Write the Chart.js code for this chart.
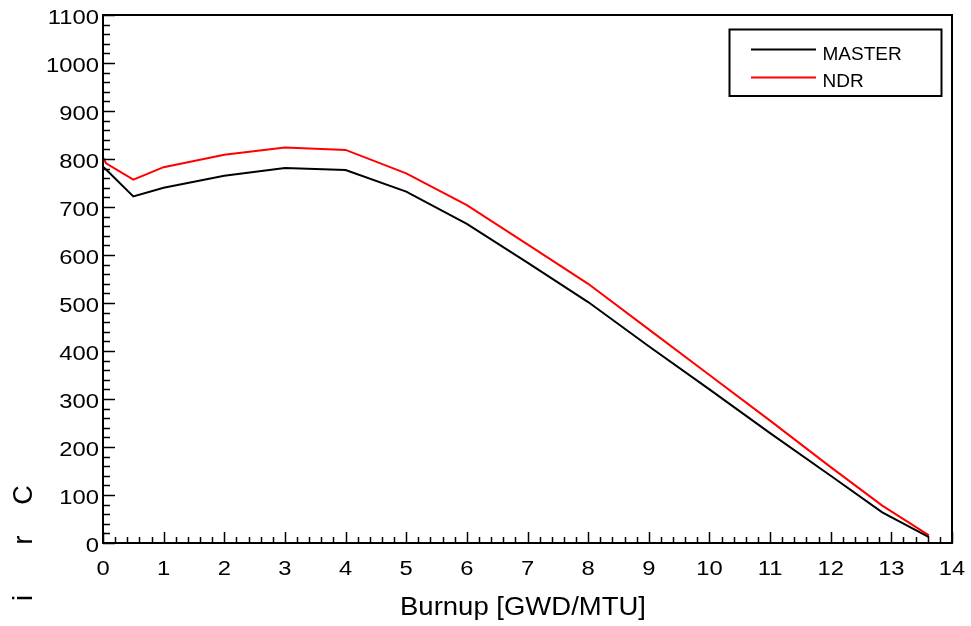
<!DOCTYPE html>
<html><head><meta charset="utf-8">
<script src="https://cdn.jsdelivr.net/npm/chart.js@4"></script>
<style>html,body{margin:0;padding:0;background:#fff;}#wrap{width:971px;height:626px;}</style>
</head><body><div id="wrap"><canvas id="c" width="971" height="626"></canvas></div>
<script>
// ---- data ----
const burnup       = [0, 0.05, 0.5, 1, 2, 3, 4, 5, 6, 7, 8, 9, 10, 11, 12, 12.85, 13.62];
const masterValues = [784, 778, 722, 740, 765, 781, 777, 732, 665, 584, 502, 410, 320, 229, 140, 64, 12];
const ndrValues    = [803, 791, 757, 783, 809, 824, 819, 770, 704, 622, 540, 445, 350, 255, 158, 78, 16];
const seriesNames  = ['MASTER', 'NDR'];
const seriesColors = ['#000000', '#ff0000'];
const xTickValues  = [0,1,2,3,4,5,6,7,8,9,10,11,12,13,14];
const yTickValues  = [0,100,200,300,400,500,600,700,800,900,1000,1100];
const xTitle = 'Burnup [GWD/MTU]';
const yTitleChars = ['C', 'r', 'i'];

const FONT = '"Liberation Sans", Arial, sans-serif';

function sText(ctx, txt, x, y, align, sx) {
  ctx.save(); ctx.translate(x, y); ctx.scale(sx, 1);
  ctx.textAlign = align; ctx.fillText(txt, 0, 0); ctx.restore();
}

const decor = {
  id: 'decor',
  afterDraw(chart) {
    const ctx = chart.ctx, a = chart.chartArea;
    const xs = chart.scales.x, ys = chart.scales.y;
    ctx.save();
    ctx.strokeStyle = '#000'; ctx.fillStyle = '#000';
    ctx.lineWidth = 2; ctx.lineCap = 'square';
    // frame
    ctx.beginPath();
    ctx.moveTo(a.left, a.top); ctx.lineTo(a.right, a.top);
    ctx.lineTo(a.right, a.bottom); ctx.lineTo(a.left, a.bottom); ctx.closePath();
    ctx.stroke();
    // ticks
    ctx.lineWidth = 1.5; ctx.lineCap = 'butt';
    ctx.beginPath();
    for (let v = 0; v <= 14.0001; v += 0.2) {
      const px = Math.round(xs.getPixelForValue(v)) + 0.5;
      const major = Math.abs(v - Math.round(v)) < 1e-6;
      ctx.moveTo(px, a.bottom); ctx.lineTo(px, a.bottom - (major ? 11 : 6));
    }
    for (let v = 0; v <= 1100.001; v += 20) {
      const py = Math.round(ys.getPixelForValue(v)) + 0.5;
      const major = Math.abs(v % 100) < 1e-6;
      ctx.moveTo(a.left, py); ctx.lineTo(a.left + (major ? 12 : 7), py);
    }
    ctx.stroke();
    // tick labels
    ctx.font = '19.5px ' + FONT; ctx.textBaseline = 'alphabetic';
    xTickValues.forEach(v => sText(ctx, String(v), xs.getPixelForValue(v), 575, 'center', 1.22));
    yTickValues.forEach(v => sText(ctx, String(v), 99, ys.getPixelForValue(v) + 9, 'right', 1.22));
    // x title
    ctx.font = '25px ' + FONT;
    sText(ctx, xTitle, 523, 615, 'center', 1.1);
    // y title fragments (rotated characters)
    const yPos = [495, 540, 598];
    ctx.font = '27px ' + FONT;
    yTitleChars.forEach((ch, i) => {
      ctx.save(); ctx.translate(32, yPos[i]); ctx.rotate(-Math.PI / 2);
      ctx.textAlign = 'center'; ctx.fillText(ch, 0, 0); ctx.restore();
    });
    // legend
    ctx.lineWidth = 2;
    ctx.strokeRect(729.5, 29.5, 212, 66.5);
    ctx.font = '19px ' + FONT; ctx.textAlign = 'left';
    chart.data.datasets.forEach((ds, i) => {
      const ly = 49.5 + i * 28;
      ctx.strokeStyle = ds.borderColor; ctx.lineWidth = 2;
      ctx.beginPath(); ctx.moveTo(751, ly); ctx.lineTo(816, ly); ctx.stroke();
      ctx.fillStyle = '#000';
      ctx.fillText(ds.label, 822.5, 59.5 + i * 27);
    });
    ctx.restore();
  }
};

new Chart(document.getElementById('c'), {
  type: 'line',
  data: {
    labels: burnup,
    datasets: [
      { label: seriesNames[0], data: burnup.map((x, i) => ({x, y: masterValues[i]})), borderColor: seriesColors[0], borderWidth: 2, pointRadius: 0, tension: 0, fill: false },
      { label: seriesNames[1], data: burnup.map((x, i) => ({x, y: ndrValues[i]})), borderColor: seriesColors[1], borderWidth: 2, pointRadius: 0, tension: 0, fill: false }
    ]
  },
  options: {
    responsive: false, animation: false, devicePixelRatio: 1,
    layout: { padding: { top: 15, right: 19, left: 0, bottom: 0 } },
    plugins: { legend: { display: false }, tooltip: { enabled: false }, title: { display: false } },
    scales: {
      x: { type: 'linear', min: 0, max: 14, ticks: { stepSize: 1, display: false }, grid: { display: false }, border: { display: false },
           afterFit: s => { s.height = 83; } },
      y: { type: 'linear', min: 0, max: 1100, ticks: { stepSize: 100, display: false }, grid: { display: false }, border: { display: false },
           afterFit: s => { s.width = 103; } }
    }
  },
  plugins: [decor]
});
</script></body></html>
